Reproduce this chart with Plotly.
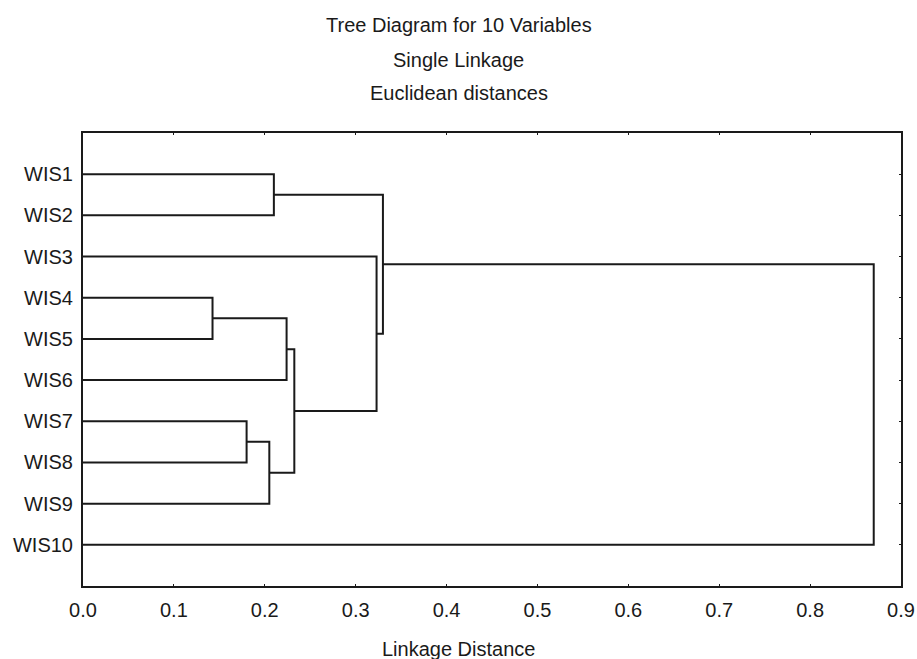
import plotly.graph_objects as go

# ---- data ----
labels = ["WIS1", "WIS2", "WIS3", "WIS4", "WIS5", "WIS6", "WIS7", "WIS8", "WIS9", "WIS10"]
# linkage steps (scipy-style indices: leaves 0..9, new clusters 10, 11, ...)
merge_a = [0, 3, 11, 6, 13, 12, 2, 10, 17]
merge_b = [1, 4, 5, 7, 8, 14, 15, 16, 9]
merge_dist = [0.210, 0.1425, 0.224, 0.180, 0.205, 0.2325, 0.323, 0.330, 0.870]
x_ticks = [0.0, 0.1, 0.2, 0.3, 0.4, 0.5, 0.6, 0.7, 0.8, 0.9]

# ---- build dendrogram segments from linkage ----
height = {i: 0.0 for i in range(len(labels))}
ypos = {i: i + 1 for i in range(len(labels))}
xs, ys = [], []
n = len(labels)
for k, (a, b, d) in enumerate(zip(merge_a, merge_b, merge_dist)):
    xs += [height[a], d, d, height[b], None]
    ys += [ypos[a], ypos[a], ypos[b], ypos[b], None]
    height[n + k] = d
    ypos[n + k] = (ypos[a] + ypos[b]) / 2

ink = "#1a1a1a"
font = "Liberation Sans, Arial, sans-serif"

fig = go.Figure()
fig.add_trace(go.Scatter(x=xs, y=ys, mode="lines",
                         line=dict(color=ink, width=2),
                         hoverinfo="skip", showlegend=False))

W, H = 917, 659
ml, mr, mt, mb = 83, 16, 133, 73
ph = H - mt - mb

def py(pix):
    return (H - mb - pix) / ph

xc = (458.5 - ml) / (W - ml - mr)

titles = ["Tree Diagram for 10 Variables", "Single Linkage", "Euclidean distances"]
for t, yp in zip(titles, [25, 60, 93]):
    fig.add_annotation(text=t, x=xc, y=py(yp), xref="paper", yref="paper",
                       xanchor="center", yanchor="middle", showarrow=False,
                       font=dict(family=font, size=20, color=ink))
fig.add_annotation(text="Linkage Distance", x=xc, y=py(649), xref="paper", yref="paper",
                   xanchor="center", yanchor="middle", showarrow=False,
                   font=dict(family=font, size=20, color=ink))

fig.update_layout(
    width=W, height=H, autosize=False,
    margin=dict(l=ml, r=mr, t=mt, b=mb, pad=0, autoexpand=False),
    paper_bgcolor="white", plot_bgcolor="white",
    font=dict(family=font, size=20, color=ink),
    xaxis=dict(range=[0, 0.9], tickvals=x_ticks,
               ticktext=[f"{v:.1f}" for v in x_ticks],
               ticks="inside", ticklen=2, tickwidth=1, tickcolor=ink,
               ticklabelstandoff=5, automargin=False,
               showline=True, linewidth=2, linecolor=ink, mirror="ticks",
               showgrid=False, zeroline=False, fixedrange=True,
               tickfont=dict(family=font, size=20, color=ink)),
    yaxis=dict(range=[11, 0], tickvals=list(range(1, n + 1)), ticktext=labels,
               ticks="inside", ticklen=2, tickwidth=1, tickcolor=ink,
               ticklabelstandoff=4, automargin=False,
               showline=True, linewidth=2, linecolor=ink, mirror="ticks",
               showgrid=False, zeroline=False, fixedrange=True,
               tickfont=dict(family=font, size=20, color=ink)),
)

fig.write_html("out.html",
               config={"displayModeBar": False, "responsive": False},
               post_script="document.body.style.margin='0px';document.body.style.overflow='hidden';")
